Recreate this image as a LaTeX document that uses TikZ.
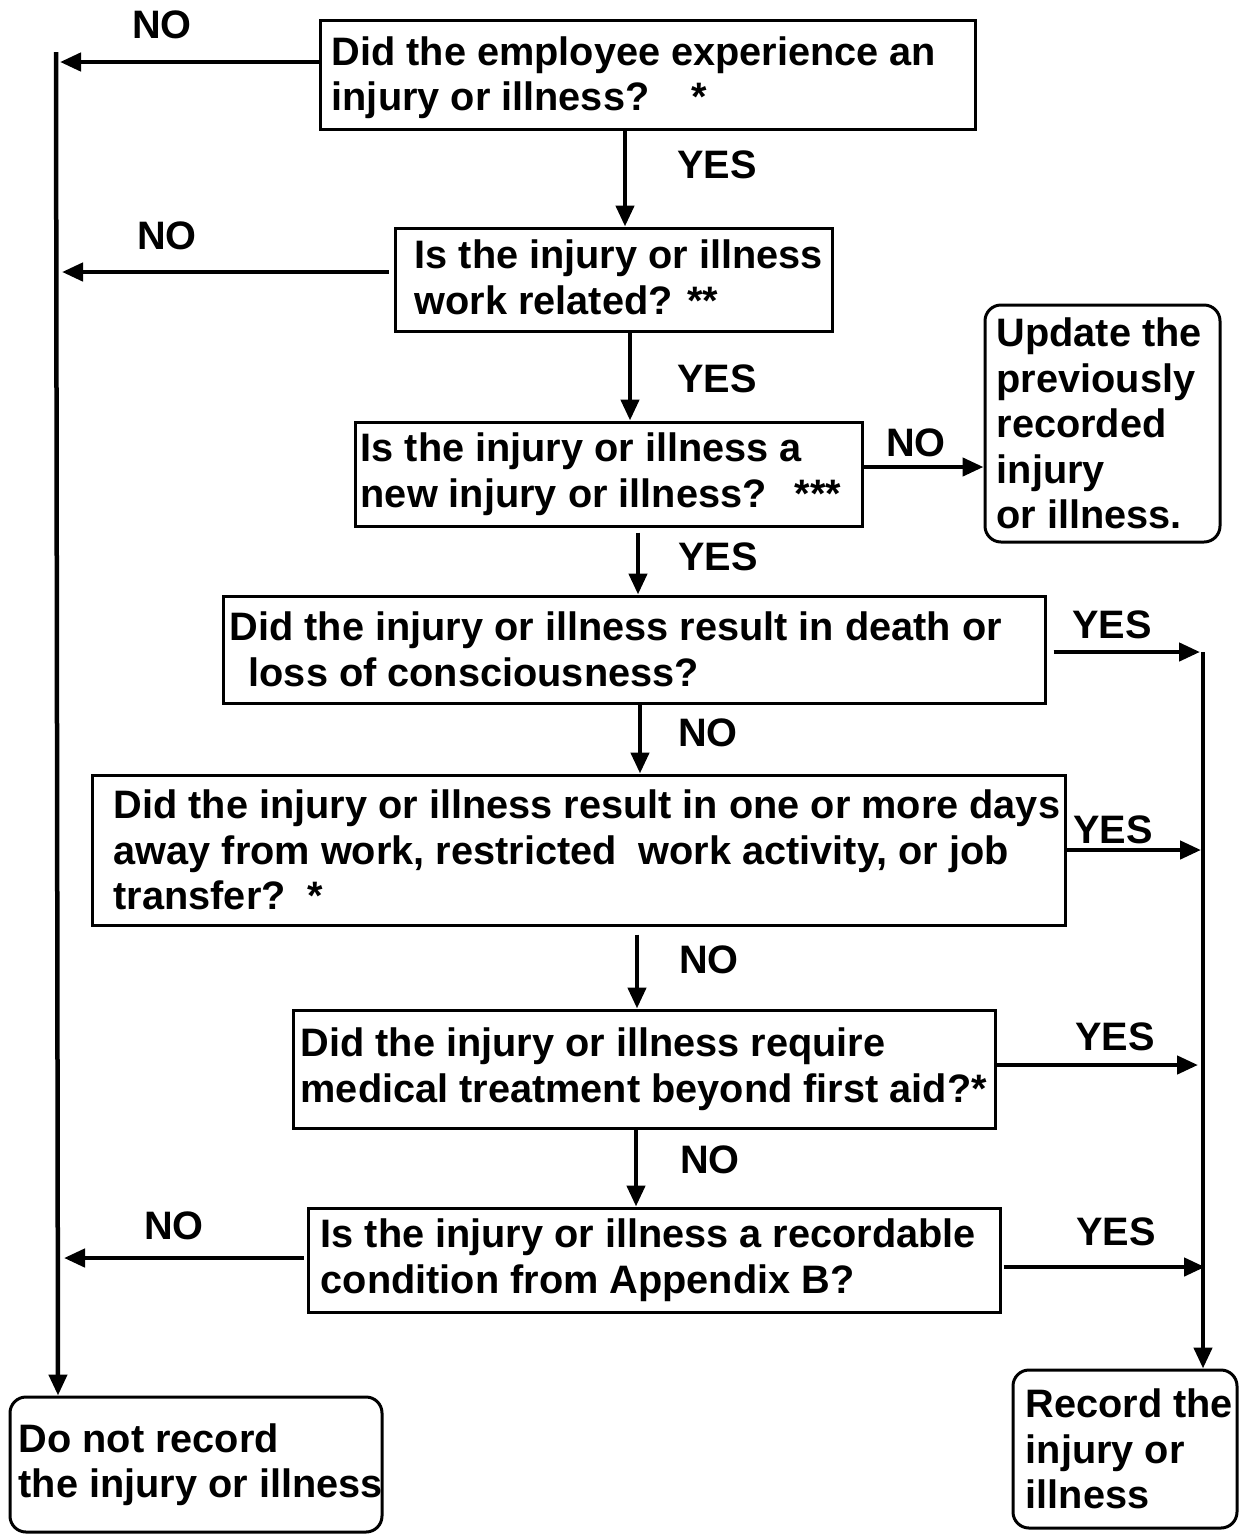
\documentclass[tikz,border=0pt]{standalone}
\usepackage{fontspec}
\setmainfont{Liberation Sans}
\usetikzlibrary{arrows.meta}

\begin{document}
\begin{tikzpicture}[
            x = 1pt, y = -1pt, % one unit per pixel, y runs down
            > = {Triangle[length=21pt, width=18pt]}, % arrow head style
            every node/.style = {font=\fontsize{39.7}{45.5}\selectfont\bfseries},
        ]

        \tikzstyle{question}=[
            draw,
            line width = 3pt,
            rectangle,
            inner sep = 0pt
        ]
        \tikzstyle{outcome}=[question, rounded corners = 16pt]
        \tikzstyle{txt}=[anchor = west, align = left, inner sep = 0pt]
        \tikzstyle{flow}=[line width = 4.5pt]

        \useasboundingbox (0,0) rectangle (1246,1535);

        % question boxes
        \node[question, minimum width=655, minimum height=109] (q1) at (647.5,74.5) {};
        \node[question, minimum width=437, minimum height=103] (q2) at (613.5,279.5) {};
        \node[question, minimum width=507, minimum height=104] (q3) at (608.5,474) {};
        \node[question, minimum width=822, minimum height=107] (q4) at (634,649.5) {};
        \node[question, minimum width=973, minimum height=150] (q5) at (578.5,850) {};
        \node[question, minimum width=702, minimum height=118] (q6) at (644,1069) {};
        \node[question, minimum width=692, minimum height=104] (q7) at (654,1260) {};

        % end boxes
        \node[outcome, minimum width=235, minimum height=237] (upd) at (1102.5,423.5) {};
        \node[outcome, minimum width=372, minimum height=135] (dnr) at (196,1464.5) {};
        \node[outcome, minimum width=224, minimum height=158] (rec) at (1125,1449) {};

        % box texts
        \node[txt] (q1-t) at ([xshift=13,yshift=-3]q1.west) {Did the employee experience an\\injury or illness?\hspace{42pt}*};
        \node[txt] (q2-t) at ([xshift=21,yshift=2]q2.west) {Is the injury or illness\\work related? **};
        \node[txt] (q3-t) at ([xshift=7]q3.west) {Is the injury or illness a\\new injury or illness?\hspace{28pt}***};
        \node[txt] (q4-t) at ([xshift=8]q4.west) {Did the injury or illness result in death or\\\hspace*{19pt}loss of consciousness?};
        \node[txt] (q5-t) at ([xshift=23]q5.west) {Did the injury or illness result in one or more days\\away from work, restricted\ \ work activity, or job\\transfer?\hspace{22pt}*};
        \node[txt] (q6-t) at ([xshift=9]q6.west) {Did the injury or illness require\\medical treatment beyond first aid?*};
        \node[txt] (q7-t) at ([xshift=14]q7.west) {Is the injury or illness a recordable\\condition from Appendix B?};
        \node[txt] (upd-t) at ([xshift=13]upd.west) {Update the\\previously\\recorded\\injury\\or illness.};
        \node[txt] (dnr-t) at ([xshift=10]dnr.west) {Do not record\\the injury or illness};
        \node[txt] (rec-t) at ([xshift=14]rec.west) {Record the\\injury or\\illness};

        % trunk points
        \coordinate (ltop) at (56,52);
        \coordinate (n1) at (60,62);
        \coordinate (n2) at (62,272);
        \coordinate (n7) at (64,1258);
        \coordinate (rtop) at (1203,652);
        \coordinate (y4) at (1200,652);
        \coordinate (y5) at (1201,850);
        \coordinate (y6) at (1198,1065);
        \coordinate (y7) at (1205,1267);

        % main flow down
        \draw[flow, ->] ([xshift=-22.5]q1.south) -- ([xshift=11.5]q2.north);
        \draw[flow, ->] ([xshift=16.5]q2.south) -- ([xshift=21.5]q3.north);
        \draw[flow, ->, shorten <=5pt] ([xshift=29.5]q3.south) -- ([xshift=4]q4.north);
        \draw[flow, ->] ([xshift=6]q4.south) -- ([xshift=61.5]q5.north);
        \draw[flow, ->, shorten <=8pt] ([xshift=58.5]q5.south) -- ([xshift=-7]q6.north);
        \draw[flow, ->] ([xshift=-8]q6.south) -- ([xshift=-18]q7.north);
        \draw[flow, ->] ([yshift=7]q3.east) -- ([yshift=7]q3.east -| upd.west);

        % NO side
        \draw[flow, ->] ([yshift=12.5]q1.west) -- (n1);
        \draw[flow, ->, shorten <=5pt] ([yshift=7.5]q2.west) -- (n2);
        \draw[flow, ->, shorten <=3pt] ([yshift=2]q7.west) -- (n7);
        \draw[flow, ->] (ltop) -- ([xshift=-138]dnr.north);

        % YES side
        \draw[flow, ->, shorten <=7pt] ([yshift=-2.5]q4.east) -- (y4);
        \draw[flow, ->] (q5.east) -- (y5);
        \draw[flow, ->] ([yshift=4]q6.east) -- (y6);
        \draw[flow, ->, shorten <=2pt] ([yshift=-7]q7.east) -- (y7);
        \draw[flow, ->] (rtop) -- ([xshift=78]rec.north);

        % answers
        \node (no1) at (162,25) {NO};
        \node (no2) at (167,236) {NO};
        \node (no3) at (916,443) {NO};
        \node (no4) at (708,733) {NO};
        \node (no5) at (709,960) {NO};
        \node (no6) at (710,1160) {NO};
        \node (no7) at (174,1226) {NO};

        \node (yes1) at (717,165) {YES};
        \node (yes2) at (717,379) {YES};
        \node (yes3) at (718,557) {YES};
        \node (yes4) at (1112,625) {YES};
        \node (yes5) at (1113,830) {YES};
        \node (yes6) at (1115,1037) {YES};
        \node (yes7) at (1116,1232) {YES};
    \end{tikzpicture}
\end{document}
